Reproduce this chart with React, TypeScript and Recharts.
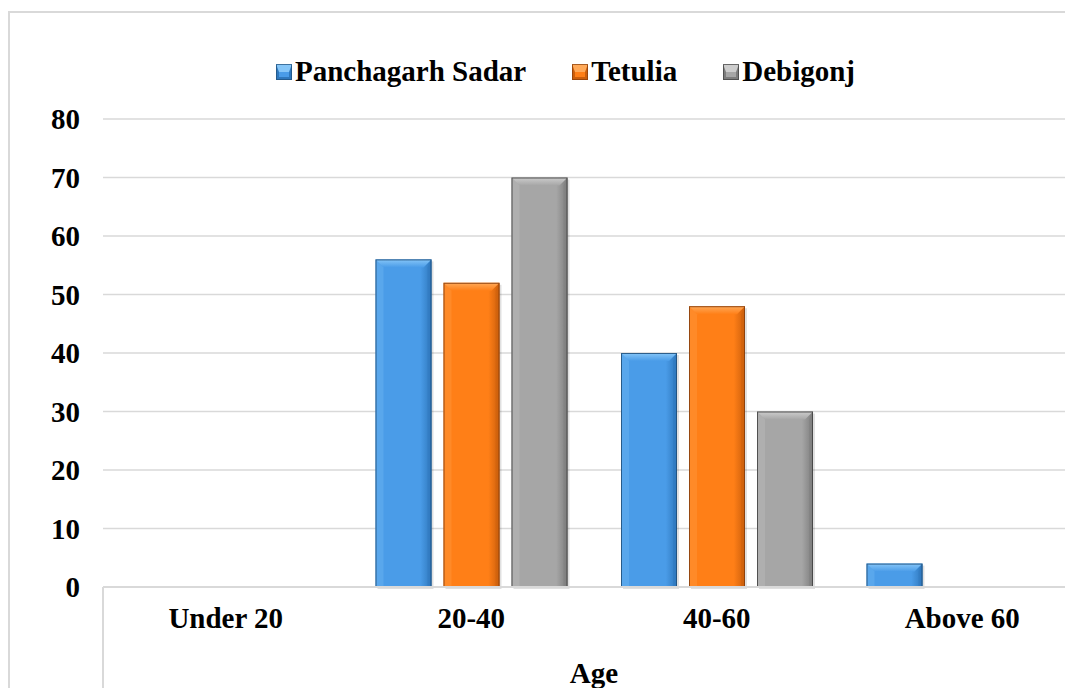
import React from 'react';
import { BarChart, Bar, XAxis, YAxis, CartesianGrid } from 'recharts';

const categories = ['Under 20', '20-40', '40-60', 'Above 60'];
const panchagarhSadar = [0, 56, 40, 4];
const tetulia = [0, 52, 48, 0];
const debigonj = [0, 70, 30, 0];
const yTicks = [0, 10, 20, 30, 40, 50, 60, 70, 80];

const seriesNames = ['Panchagarh Sadar', 'Tetulia', 'Debigonj'];
const seriesKeys = ['ps', 'te', 'de'];

const palette: Record<string, { base: string; light: string; dark: string; edge: string }> = {
  ps: { base: '#4a9ce8', light: '#86c6f8', dark: '#2f78bd', edge: '#1f4e79' },
  te: { base: '#ff7f17', light: '#ffaa5a', dark: '#cc5f0c', edge: '#843c0c' },
  de: { base: '#a6a6a6', light: '#cdcdcd', dark: '#7d7d7d', edge: '#3f3f3f' },
};

const data = categories.map((c, i) => ({
  category: c,
  ps: panchagarhSadar[i],
  te: tetulia[i],
  de: debigonj[i],
}));

const FONT = "'Liberation Serif', 'Times New Roman', serif";

const makeShape = (key: string) => (props: any) => {
  const { x, y, width, height, index } = props;
  if (!height || height <= 0) return <g />;
  const c = palette[key];
  const b = Math.min(8, height / 2, width / 2);
  const gid = `g-${key}-${index}`;
  const vid = `v-${key}-${index}`;
  return (
    <g>
      <defs>
        <linearGradient id={gid} x1="0" y1="0" x2="1" y2="0">
          <stop offset="0%" stopColor={c.base} />
          <stop offset="80%" stopColor={c.base} />
          <stop offset="100%" stopColor={c.dark} />
        </linearGradient>
        <linearGradient id={vid} x1="0" y1="0" x2="0" y2="1">
          <stop offset="0%" stopColor={c.light} />
          <stop offset="100%" stopColor={c.base} />
        </linearGradient>
      </defs>
      <rect x={x + 2} y={y + 2} width={width} height={height} fill="#000" opacity={0.12} />
      <rect x={x} y={y} width={width} height={height} fill={`url(#${gid})`} />
      <polygon
        points={`${x},${y} ${x + width},${y} ${x + width - b},${y + b} ${x + b},${y + b}`}
        fill={`url(#${vid})`}
      />
      <polygon
        points={`${x},${y} ${x + b},${y + b} ${x + b},${y + height} ${x},${y + height}`}
        fill={c.light}
        opacity={0.25}
      />
      <polygon
        points={`${x + width},${y} ${x + width - b / 2},${y + b} ${x + width - b / 2},${y + height} ${x + width},${y + height}`}
        fill={c.dark}
        opacity={0.5}
      />
      <rect x={x + 0.5} y={y + 0.5} width={width - 1} height={height - 1} fill="none" stroke={c.edge} strokeWidth={1} opacity={0.85} />
    </g>
  );
};

const LegendMarker = ({ k }: { k: string }) => {
  const c = palette[k];
  return (
    <svg width={16} height={16} style={{ marginRight: 3, display: 'block' }}>
      <rect x={0} y={0} width={16} height={16} fill={c.dark} />
      <polygon points="0,0 16,0 13,8 3,8" fill={c.light} />
      <rect x={3} y={8} width={10} height={5} fill={c.base} />
      <rect x={0.5} y={0.5} width={15} height={15} fill="none" stroke={c.edge} strokeWidth={1} opacity={0.7} />
    </svg>
  );
};

export default function App() {
  return (
    <div style={{ position: 'relative', width: 1065, height: 680, overflow: 'hidden', background: '#fff' }}>
      <div
        style={{
          position: 'absolute',
          left: 0,
          top: 3,
          width: 1300,
          height: 900,
          border: '2px solid #d9d9d9',
          boxSizing: 'border-box',
        }}
      />
      <div style={{ position: 'absolute', left: 94, top: 579, width: 2, height: 200, background: '#d9d9d9' }} />
      <div
        style={{
          position: 'absolute',
          left: 268,
          top: 49,
          display: 'flex',
          alignItems: 'center',
          gap: 46,
          fontFamily: FONT,
          fontWeight: 'bold',
          fontSize: 29,
          lineHeight: '29px',
          color: '#000',
          whiteSpace: 'nowrap',
        }}
      >
        {seriesNames.map((n, i) => (
          <div key={n} style={{ display: 'flex', alignItems: 'center' }}>
            <LegendMarker k={seriesKeys[i]} />
            <span>{n}</span>
          </div>
        ))}
      </div>
      <div style={{ position: 'absolute', left: 0, top: 0 }}>
        <BarChart
          width={1100}
          height={680}
          data={data}
          margin={{ top: 111, right: 23, left: 0, bottom: 0 }}
          barSize={56}
          barGap={12}
        >
          <CartesianGrid vertical={false} stroke="#d9d9d9" strokeWidth={1.5} />
          <XAxis
            dataKey="category"
            height={101}
            tickLine={false}
            axisLine={{ stroke: '#d9d9d9', strokeWidth: 2 }}
            tickSize={6}
            tickMargin={14}
            tick={{ fontFamily: FONT, fontWeight: 'bold', fontSize: 29, fill: '#000' }}
            label={{
              value: 'Age',
              position: 'insideBottom',
              offset: 5,
              style: { fontFamily: FONT, fontWeight: 'bold', fontSize: 29, fill: '#000' },
            }}
          />
          <YAxis
            width={95}
            domain={[0, 80]}
            ticks={yTicks}
            interval={0}
            axisLine={false}
            tickLine={false}
            tickSize={6}
            tickMargin={17}
            tick={{ fontFamily: FONT, fontWeight: 'bold', fontSize: 29, fill: '#000' }}
          />
          {seriesKeys.map((k, i) => (
            <Bar key={k} dataKey={k} name={seriesNames[i]} fill={palette[k].base} shape={makeShape(k)} isAnimationActive={false} />
          ))}
        </BarChart>
      </div>
    </div>
  );
}
